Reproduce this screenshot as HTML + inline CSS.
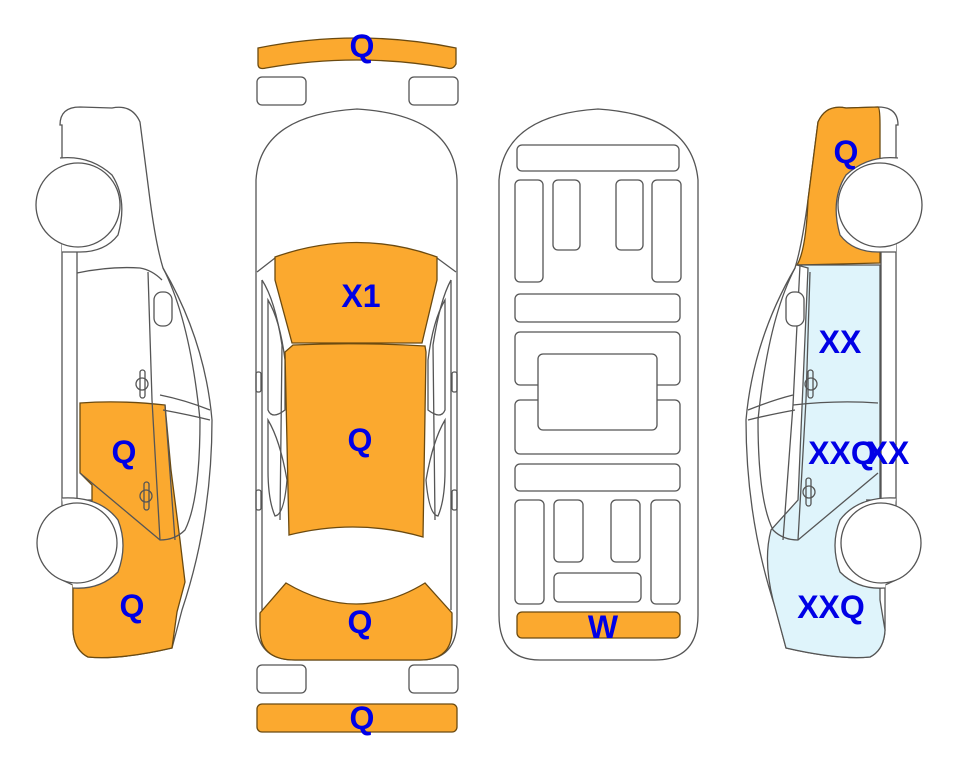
<!DOCTYPE html>
<html><head><meta charset="utf-8"><style>
html,body{margin:0;padding:0;background:#fff;}
svg{display:block;}
text{font-family:"Liberation Sans",Arial,sans-serif;font-weight:bold;fill:#0000e6;font-size:32px;text-anchor:middle;}
</style></head><body>
<svg width="963" height="768" viewBox="0 0 963 768" xmlns="http://www.w3.org/2000/svg">
<g stroke="#555" stroke-width="1.3" fill="none">

<path d="M60,125 Q60,107 80,107 L112,108 Q132,104 140,122 L150,200 Q156,245 163,268 Q205,340 212,420 Q212,520 182,610 L172,648 Q120,660 88,657 Q74,650 73,630 L73,585 L62,580 L62,125 Z" fill="#fff"/>
<path d="M80,403 Q120,400 165,405 L171,470 L180,540 L185,582 L177,612 L172,648 Q120,660 88,657 Q74,650 73,630 L73,585 L92,560 L92,485 L80,473 Z" fill="#fba92f" stroke="#6b4a10"/>
<path d="M77,252 L77,500 M62,250 L77,250 M62,500 L92,500"/>
<path d="M77,273 Q110,266 140,268 Q152,270 162,280"/>
<path d="M148,272 L152,400 L160,540"/>
<path d="M163,268 Q190,320 200,420 Q200,500 185,530 Q175,540 160,540 L80,473"/>
<path d="M165,405 L175,540"/>
<path d="M160,395 Q185,400 210,410 M163,410 Q190,415 210,420"/>
<rect x="154" y="292" width="18" height="34" rx="8" fill="#fff"/>
<rect x="140" y="370" width="5" height="28" rx="2.5"/><path d="M136,384 a6,6 0 0 0 12,0 a6,6 0 0 0 -12,0"/>
<rect x="144" y="482" width="5" height="28" rx="2.5" fill="#fba92f"/><path d="M140,496 a6,6 0 0 0 12,0 a6,6 0 0 0 -12,0"/>
<path d="M60,158 Q90,155 112,175 Q128,200 118,235 Q105,252 80,252 L62,252" fill="#fff"/>
<circle cx="78" cy="205" r="42" fill="#fff"/>
<path d="M62,498 Q100,496 118,520 Q128,545 118,572 Q100,590 73,588" fill="#fff"/>
<circle cx="77" cy="543" r="40" fill="#fff"/>

<g transform="translate(958,0) scale(-1,1)">
<path d="M60,125 Q60,107 80,107 L112,108 Q132,104 140,122 L150,200 Q156,245 163,268 Q205,340 212,420 Q212,520 182,610 L172,648 Q120,660 88,657 Q74,650 73,630 L73,585 L62,580 L62,125 Z" fill="#fff"/>
<path d="M78,263 L161,265 Q152,250 150,200 L140,122 Q132,104 112,108 L80,107 Q78,107 78,125 Z" fill="#fba92f" stroke="#6b4a10"/>
<path d="M78,265 L161,265 L150,268 L160,500 L187,530 Q195,560 185,600 L172,648 Q120,660 88,657 Q74,650 73,630 L78,600 Z" fill="#dff4fb"/>
<path d="M77,252 L77,500 M62,250 L77,250 M62,500 L92,500"/>
<path d="M148,272 L152,400 L160,540"/>
<path d="M163,268 Q190,320 200,420 Q200,500 185,530 Q175,540 160,540 L80,473"/>
<path d="M158,265 L165,405 L175,540"/>
<path d="M80,403 Q120,400 165,405"/>
<path d="M165,395 Q185,400 210,410 M163,410 Q190,415 210,420"/>
<rect x="154" y="292" width="18" height="34" rx="8" fill="#fff"/>
<rect x="145" y="370" width="5" height="28" rx="2.5"/><path d="M141,384 a6,6 0 0 0 12,0 a6,6 0 0 0 -12,0"/>
<rect x="147" y="478" width="5" height="28" rx="2.5"/><path d="M143,492 a6,6 0 0 0 12,0 a6,6 0 0 0 -12,0"/>
<path d="M60,158 Q90,155 112,175 Q128,200 118,235 Q105,252 80,252 L62,252" fill="#fff"/>
<circle cx="78" cy="205" r="42" fill="#fff"/>
<path d="M62,498 Q100,496 118,520 Q128,545 118,572 Q100,590 73,588" fill="#fff"/>
<circle cx="77" cy="543" r="40" fill="#fff"/>
</g>

<path d="M258,48 Q357,28 456,48 L456,64 Q453,70 447,68 Q357,52 266,68 Q258,70 258,64 Z" fill="#fba92f" stroke="#6b4a10"/>
<rect x="257" y="77" width="49" height="28" rx="5" fill="#fff"/>
<rect x="409" y="77" width="49" height="28" rx="5" fill="#fff"/>
<path d="M256,180 Q260,115 357,109 Q454,115 457,180 L457,620 Q457,660 420,660 L295,660 Q256,660 256,620 Z" fill="#fff"/>
<path d="M262,280 L262,610 M451,280 L451,610"/>
<path d="M257,272 L275,258 M456,272 L437,258"/>
<path d="M262,280 Q275,300 282,345 L280,520 M451,280 Q440,300 433,345 L435,520"/>
<path d="M268,300 Q280,320 285,360 L285,410 Q272,420 268,410 Z"/>
<path d="M445,300 Q433,320 428,360 L428,410 Q441,420 445,410 Z"/>
<path d="M268,420 Q280,440 287,480 Q284,515 275,516 Q268,500 268,470 Z M445,420 Q433,440 426,480 Q429,515 438,516 Q445,500 445,470 Z"/>
<rect x="256" y="372" width="5" height="20" rx="2"/><rect x="452" y="372" width="5" height="20" rx="2"/>
<rect x="256" y="490" width="5" height="20" rx="2"/><rect x="452" y="490" width="5" height="20" rx="2"/>
<path d="M275,257 Q357,228 437,257 L437,280 L422,343 L292,343 L275,280 Z" fill="#fba92f" stroke="#6b4a10"/>
<path d="M293,345 Q357,342 425,346 L426,352 L423,537 Q357,518 289,535 L285,352 Z" fill="#fba92f" stroke="#6b4a10"/>
<path d="M286,583 Q357,625 425,583 L452,613 L452,630 Q452,660 420,660 L295,660 Q260,660 260,630 L260,613 Z" fill="#fba92f" stroke="#6b4a10"/>
<rect x="257" y="665" width="49" height="28" rx="5" fill="#fff"/>
<rect x="409" y="665" width="49" height="28" rx="5" fill="#fff"/>
<rect x="257" y="704" width="200" height="28" rx="5" fill="#fba92f" stroke="#6b4a10"/>

<path d="M499,180 Q504,115 598,109 Q692,115 698,180 L698,615 Q698,660 655,660 L540,660 Q499,660 499,615 Z" fill="#fff"/>
<rect x="517" y="145" width="162" height="26" rx="5"/>
<rect x="515" y="180" width="28" height="102" rx="5"/>
<rect x="553" y="180" width="27" height="70" rx="5"/>
<rect x="616" y="180" width="27" height="70" rx="5"/>
<rect x="652" y="180" width="29" height="102" rx="5"/>
<rect x="515" y="294" width="165" height="28" rx="5"/>
<rect x="515" y="332" width="165" height="53" rx="5"/>
<rect x="515" y="400" width="165" height="54" rx="5"/>
<rect x="538" y="354" width="119" height="76" rx="5" fill="#fff"/>
<rect x="515" y="464" width="165" height="27" rx="5"/>
<rect x="515" y="500" width="29" height="104" rx="5"/>
<rect x="554" y="500" width="29" height="62" rx="5"/>
<rect x="611" y="500" width="29" height="62" rx="5"/>
<rect x="651" y="500" width="29" height="104" rx="5"/>
<rect x="554" y="573" width="87" height="29" rx="5"/>
<rect x="517" y="612" width="163" height="26" rx="5" fill="#fba92f" stroke="#6b4a10"/>
</g>

<text x="362" y="57">Q</text>
<text x="361" y="307">X1</text>
<text x="360" y="451">Q</text>
<text x="360" y="633">Q</text>
<text x="362" y="729">Q</text>
<text x="603" y="638">W</text>
<text x="124" y="463">Q</text>
<text x="132" y="617">Q</text>
<text x="846" y="163">Q</text>
<text x="840" y="353">XX</text>
<text x="842" y="464">XXQ</text>
<text x="888" y="464">XX</text>
<text x="831" y="618">XXQ</text>
</svg>
</body></html>
